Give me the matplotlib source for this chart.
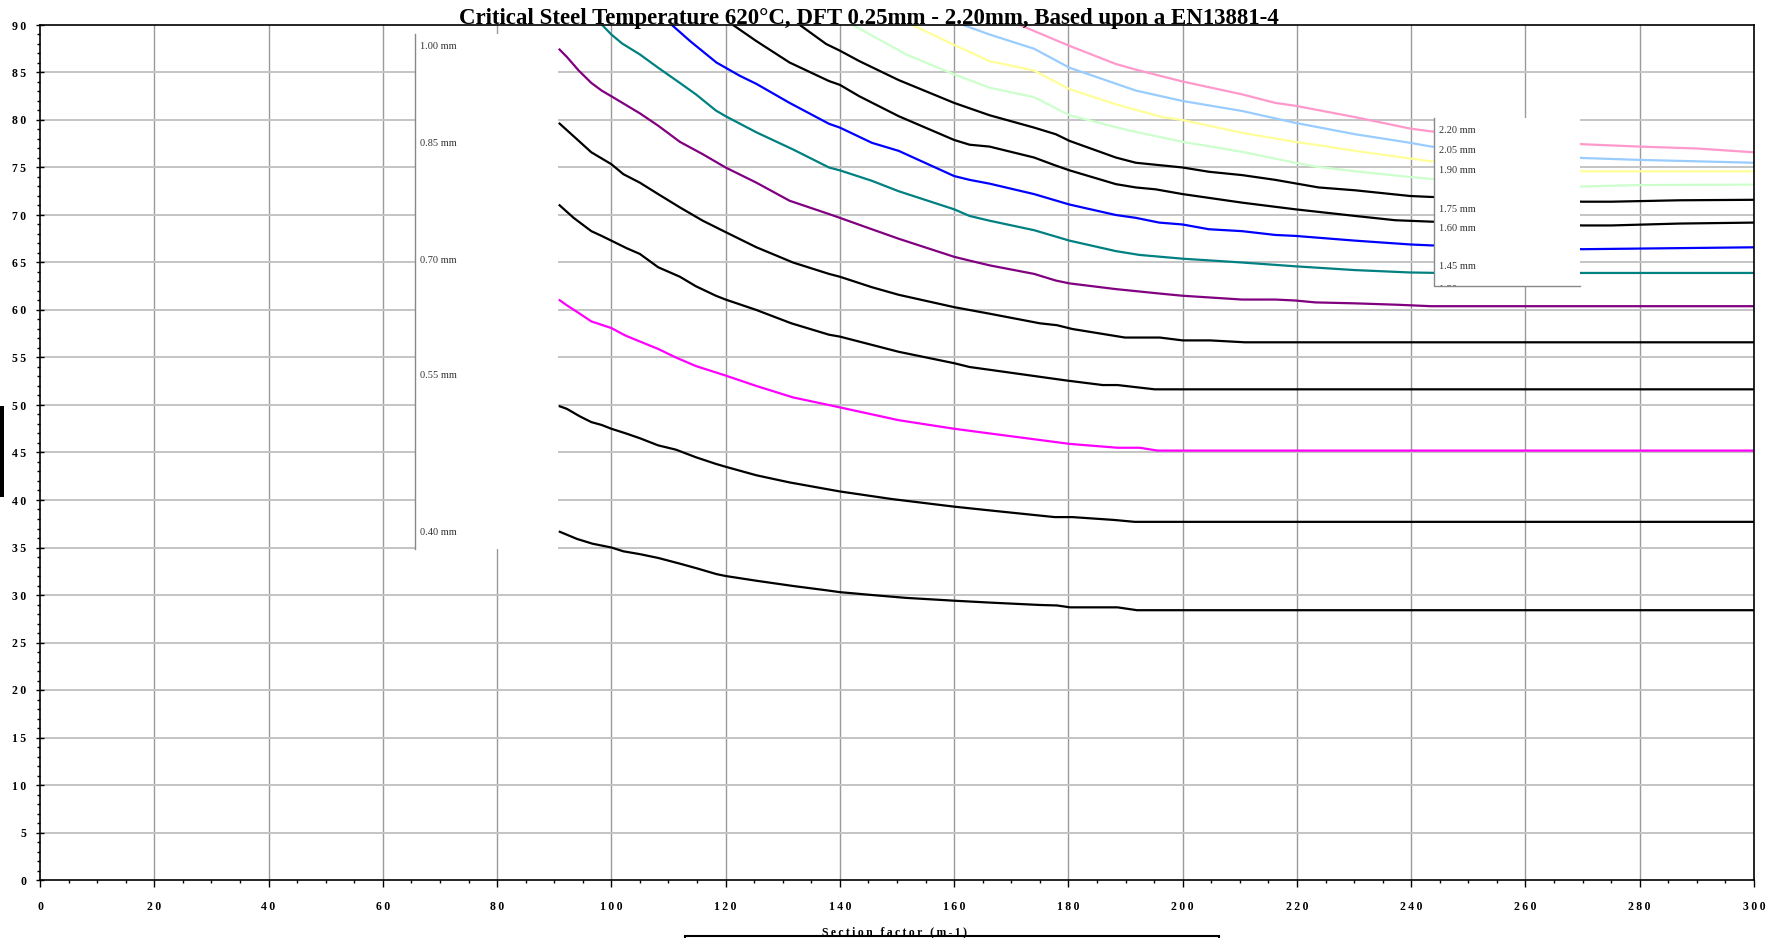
import matplotlib
matplotlib.use("Agg")
import matplotlib.pyplot as plt
from matplotlib.patches import Rectangle
from matplotlib.ticker import MultipleLocator, FuncFormatter
from matplotlib.transforms import Bbox, TransformedBbox

# ---------------- data ----------------
title = "Critical Steel Temperature 620°C, DFT 0.25mm - 2.20mm, Based upon a EN13881-4"
x_label = "Section factor (m-1)"

x_025 = [90.8, 94, 96.7, 100, 102.1, 105, 108.2, 112, 115, 118.4, 120, 125.4, 131.8, 137.6, 140, 145.6, 151.5, 160, 166.3, 175, 178, 180.3, 188.6, 192, 300]
y_025 = [36.7, 35.9, 35.4, 35.0, 34.6, 34.3, 33.9, 33.3, 32.8, 32.2, 32.0, 31.5, 30.95, 30.5, 30.3, 30.0, 29.7, 29.4, 29.2, 28.95, 28.9, 28.7, 28.7, 28.4, 28.4]

x_040 = [90.8, 92.2, 94.5, 96.5, 98.3, 100, 102.6, 105, 108.2, 111.3, 114.8, 118.3, 120, 125.4, 131.2, 140, 149.1, 160, 166.3, 177.6, 180.7, 188, 191.6, 300]
y_040 = [49.9, 49.6, 48.8, 48.2, 47.9, 47.5, 47.0, 46.5, 45.75, 45.3, 44.5, 43.8, 43.5, 42.6, 41.85, 40.9, 40.1, 39.3, 38.9, 38.2, 38.2, 37.9, 37.7, 37.7]

x_055 = [90.8, 92.2, 94, 96.5, 100, 102.5, 108.2, 111.3, 114.8, 120, 125.4, 131.8, 140, 150.3, 160, 166.3, 180.3, 188.6, 192.5, 195.6, 300]
y_055 = [61.1, 60.5, 59.8, 58.8, 58.1, 57.3, 55.9, 55.0, 54.1, 53.1, 52.0, 50.8, 49.75, 48.4, 47.5, 47.0, 45.9, 45.5, 45.5, 45.2, 45.2]

x_070 = [90.8, 93.4, 96.5, 98.3, 100, 102.7, 105, 108.2, 112, 114.8, 118.3, 120, 125.4, 131.5, 138.1, 140, 150.3, 160, 162.7, 166.3, 179.4, 186, 188.6, 195.1, 300]
y_070 = [71.1, 69.7, 68.3, 67.8, 67.3, 66.5, 65.9, 64.5, 63.5, 62.5, 61.5, 61.1, 60.0, 58.6, 57.4, 57.2, 55.6, 54.4, 54.0, 53.7, 52.6, 52.1, 52.1, 51.65, 51.65]

x_085 = [90.8, 94.3, 96.5, 100, 102.1, 105, 108.2, 112, 116, 120, 125.4, 131.8, 138.1, 140, 145.6, 150.3, 160, 166.3, 175, 178, 180.7, 189.9, 196, 200, 204.8, 210.9, 300]
y_085 = [79.7, 77.8, 76.6, 75.35, 74.3, 73.4, 72.2, 70.8, 69.4, 68.2, 66.6, 65.0, 63.8, 63.5, 62.4, 61.6, 60.3, 59.6, 58.6, 58.4, 58.0, 57.1, 57.1, 56.8, 56.8, 56.6, 56.6]

x_100 = [90.8, 92.2, 94.3, 96.5, 98.3, 100, 105, 108.2, 112, 116, 120, 125.4, 131.2, 138.1, 140, 145.6, 150.3, 160, 162.7, 166.2, 174, 177.8, 180.2, 188.3, 196.5, 200, 210.4, 216.2, 219.7, 223.2, 230.2, 237.7, 243.5, 300]
y_100 = [87.5, 86.65, 85.2, 83.9, 83.1, 82.5, 80.7, 79.4, 77.7, 76.4, 75.0, 73.4, 71.5, 70.1, 69.7, 68.5, 67.5, 65.6, 65.2, 64.7, 63.8, 63.1, 62.8, 62.2, 61.7, 61.5, 61.1, 61.1, 61.0, 60.8, 60.7, 60.55, 60.4, 60.4]

x_115 = [98.4, 100, 101.9, 105, 108.2, 112, 114.8, 118.3, 120, 125.4, 131.8, 138.1, 140, 145.6, 150.3, 160, 162.7, 166.2, 174, 180.2, 188.3, 192.4, 200, 210.4, 219.7, 230.2, 239.8, 245, 300]
y_115 = [90, 89.0, 88.05, 86.9, 85.5, 83.9, 82.7, 81.0, 80.4, 78.7, 76.9, 75.0, 74.7, 73.6, 72.5, 70.6, 69.9, 69.4, 68.4, 67.3, 66.2, 65.8, 65.4, 65.0, 64.6, 64.2, 63.95, 63.9, 63.9]

x_130 = [110.6, 113.8, 118.4, 122.5, 125.4, 131.2, 138.1, 140, 145.6, 150.3, 160, 162.7, 166.2, 174, 180.2, 188.3, 191.8, 195.9, 200, 204.6, 210.4, 216.2, 219.7, 230.2, 239.8, 243.5, 270, 300]
y_130 = [90, 88.3, 86.05, 84.65, 83.8, 81.8, 79.6, 79.2, 77.6, 76.75, 74.1, 73.7, 73.3, 72.2, 71.1, 70.0, 69.7, 69.2, 69.0, 68.5, 68.3, 67.9, 67.8, 67.3, 66.9, 66.8, 66.4, 66.6]

x_145 = [121.3, 125.4, 131.2, 138.1, 140, 143.4, 150.3, 160, 162.7, 166.2, 174, 177.8, 180.2, 188.3, 191.8, 195.3, 200, 210.4, 219.7, 230.2, 237.2, 243.5, 270, 275, 287, 300]
y_145 = [90, 88.3, 86.05, 84.1, 83.7, 82.5, 80.4, 77.9, 77.4, 77.2, 76.05, 75.2, 74.7, 73.25, 72.9, 72.7, 72.2, 71.3, 70.6, 69.9, 69.45, 69.3, 68.9, 68.9, 69.1, 69.2]

x_160 = [133, 137.6, 140, 143.4, 150.3, 160, 166.2, 174, 177.8, 180.2, 188.3, 191.8, 200, 204.6, 210.4, 216.2, 223.8, 230.2, 239.8, 243.5, 270, 275, 287, 300]
y_160 = [90, 88.0, 87.3, 86.2, 84.2, 81.8, 80.5, 79.2, 78.5, 77.8, 76.05, 75.5, 75.0, 74.55, 74.2, 73.7, 72.9, 72.6, 72.0, 71.9, 71.4, 71.4, 71.55, 71.6]

x_175 = [142.3, 151.6, 160, 166.2, 174, 180.2, 190.6, 200, 210.4, 219.7, 223.2, 230.2, 239.8, 243.5, 270, 280, 300]
y_175 = [90, 86.9, 84.8, 83.4, 82.4, 80.5, 78.9, 77.7, 76.65, 75.5, 75.1, 74.6, 74.0, 73.8, 73.0, 73.15, 73.2]

x_190 = [152.7, 160, 166.2, 174, 180.2, 188.3, 196.5, 200, 210.4, 219.7, 223.2, 230.2, 239.8, 243.5, 270, 300]
y_190 = [90, 87.9, 86.2, 85.2, 83.25, 81.65, 80.3, 80.0, 78.65, 77.7, 77.4, 76.75, 75.95, 75.65, 74.6, 74.6]

x_205 = [161.6, 166.2, 174, 180.2, 191.8, 200, 210.4, 219.7, 230.2, 239.8, 243.5, 270, 280, 300]
y_205 = [90, 89.0, 87.5, 85.5, 83.1, 82.0, 80.95, 79.7, 78.5, 77.6, 77.2, 76.0, 75.8, 75.5]

x_220 = [171.5, 180.2, 188.3, 191.8, 200, 210.4, 216.2, 219.7, 230.2, 239.8, 243.5, 270, 280, 290, 300]
y_220 = [90, 87.8, 85.9, 85.3, 84.05, 82.7, 81.8, 81.5, 80.3, 79.1, 78.8, 77.45, 77.2, 77.0, 76.6]

series_x = [x_025, x_040, x_055, x_070, x_085, x_100, x_115, x_130, x_145, x_160, x_175, x_190, x_205, x_220]
series_y = [y_025, y_040, y_055, y_070, y_085, y_100, y_115, y_130, y_145, y_160, y_175, y_190, y_205, y_220]
series_colors = ["#000000", "#000000", "#FF00FF", "#000000", "#000000", "#800080", "#008080",
                 "#0000FF", "#000000", "#000000", "#CCFFCC", "#FFFF99", "#99CCFF", "#FF99CC"]

left_legend_labels = ["1.00 mm", "0.85 mm", "0.70 mm", "0.55 mm", "0.40 mm"]
left_legend_y = [87.7, 77.5, 65.2, 53.1, 36.6]
right_legend_labels = ["2.20 mm", "2.05 mm", "1.90 mm", "1.75 mm", "1.60 mm", "1.45 mm", "1.30 mm"]
right_legend_y = [78.9, 76.8, 74.7, 70.6, 68.6, 64.6, 62.2]

x_ticks = list(range(0, 301, 20))
y_ticks = list(range(0, 91, 5))

# ---------------- figure ----------------
W, H = 1778, 938
fig = plt.figure(figsize=(W / 100, H / 100), dpi=100)
SERIF = ["Liberation Serif", "DejaVu Serif"]

ax = fig.add_axes([40 / W, 1 - 880 / H, (1754 - 40) / W, (880 - 25) / H])
ax.set_xlim(0, 300)
ax.set_ylim(0, 90)

# grid
for xv in x_ticks[1:-1]:
    ax.axvline(xv, color="#9a9a9a", lw=1.0, zorder=1)
for yv in y_ticks[1:-1]:
    ax.axhline(yv, color="#c4c4c4", lw=1.4, zorder=1)

for xs, ys, c in zip(series_x, series_y, series_colors):
    ax.plot(xs, ys, color=c, lw=1.6, zorder=3, solid_capstyle="butt")

# left legend box (covers part of the plot)
lbox = Rectangle((65.6, 34.8), 90.65 - 65.6, 89.05 - 34.8, facecolor="white",
                 edgecolor="none", zorder=5)
ax.add_patch(lbox)
ax.plot([65.6, 65.6], [34.8, 89.05], color="#888888", lw=1.0, zorder=6)
for lab, yv in zip(left_legend_labels, left_legend_y):
    ax.text(66.5, yv, lab, fontsize=7.5, family=SERIF, color="#333333",
            va="center", ha="left", zorder=7)

# right legend box
rx0, rx1, ry0, ry1 = 244.0, 269.5, 62.5, 80.2
rbox = Rectangle((rx0, ry0), rx1 - rx0, ry1 - ry0, facecolor="white",
                 edgecolor="none", zorder=5)
ax.add_patch(rbox)
ax.plot([rx0, rx0, rx1], [ry1, ry0, ry0], color="#888888", lw=1.0, zorder=6)
rclip = TransformedBbox(Bbox([[rx0, ry0], [rx1, ry1]]), ax.transData)
for lab, yv in zip(right_legend_labels, right_legend_y):
    t = ax.text(244.9, yv, lab, fontsize=7.5, family=SERIF, color="#333333",
                va="center", ha="left", zorder=7)
    t.set_clip_box(rclip)
    t.set_clip_on(True)

# spines & ticks
for s in ax.spines.values():
    s.set_color("black")
    s.set_linewidth(1.2)
    s.set_zorder(8)

def spaced(v, pos):
    return "\u2009".join(str(int(round(v))))

ax.set_xticks(x_ticks)
ax.set_yticks(y_ticks)
ax.xaxis.set_minor_locator(MultipleLocator(5))
ax.yaxis.set_minor_locator(MultipleLocator(1))
ax.xaxis.set_major_formatter(FuncFormatter(spaced))
ax.yaxis.set_major_formatter(FuncFormatter(spaced))
ax.tick_params(axis="x", which="major", direction="out", length=5, width=1.0, pad=10)
ax.tick_params(axis="x", which="minor", direction="out", length=2.5, width=1.0)
ax.tick_params(axis="y", which="major", direction="inout", length=6, width=1.0, pad=7)
ax.tick_params(axis="y", which="minor", direction="out", length=2.5, width=1.0)
for lab in ax.get_xticklabels() + ax.get_yticklabels():
    lab.set_fontfamily(SERIF)
    lab.set_fontweight("bold")
    lab.set_fontsize(8.5)

# title
fig.text(869 / W, 1 - 24 / H, title, ha="center", va="baseline", fontsize=16.5,
         fontweight="bold", family=SERIF, zorder=10)

# x label (partly cut off at bottom) and legend box top edge
fig.text(894 / W, 1 - 926 / H, "\u2009".join(x_label), ha="center", va="top",
         fontsize=8.5, fontweight="bold", family=SERIF)
fig.add_artist(Rectangle((685 / W, 1 - 946 / H), (1219 - 685) / W, 10 / H,
                         transform=fig.transFigure, facecolor="none",
                         edgecolor="black", lw=1.5, zorder=10))

# clipped y-axis label bar at far left
fig.add_artist(Rectangle((0, 1 - 497 / H), 4 / W, 91 / H, transform=fig.transFigure,
                         facecolor="black", edgecolor="none"))

fig.savefig("out.png", dpi=100)
